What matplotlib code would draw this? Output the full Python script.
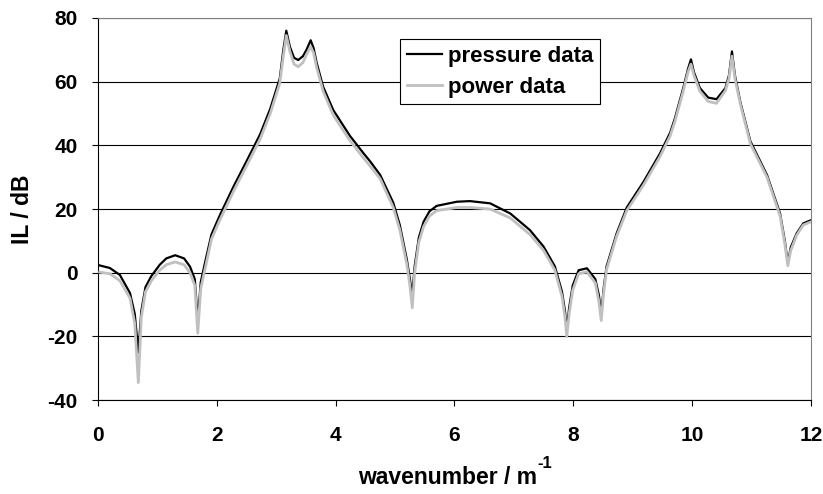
import numpy as np
import matplotlib.pyplot as plt

plt.rcParams['font.family'] = ['Liberation Sans', 'DejaVu Sans']
plt.rcParams['font.weight'] = 'bold'
plt.rcParams['axes.unicode_minus'] = False

# wavenumber samples
wavenumber = [0.03, 0.2, 0.37, 0.54, 0.62, 0.68, 0.73, 0.80, 0.9, 1.04, 1.15, 1.30, 1.45, 1.55,
              1.63, 1.68, 1.73, 1.80, 1.91, 2.05, 2.28, 2.50, 2.73, 2.90, 3.06, 3.12, 3.17, 3.23,
              3.30, 3.37, 3.45, 3.51, 3.58, 3.63, 3.68, 3.79, 3.96, 4.24, 4.47, 4.58, 4.75, 4.97,
              5.08, 5.20, 5.25, 5.29, 5.33, 5.40, 5.48, 5.58, 5.70, 6.04, 6.26, 6.60, 6.94, 7.27,
              7.50, 7.69, 7.81, 7.86, 7.89, 7.93, 7.99, 8.09, 8.23, 8.37, 8.43, 8.47, 8.51, 8.56,
              8.73, 8.90, 9.18, 9.46, 9.63, 9.71, 9.85, 9.93, 9.98, 10.03, 10.13, 10.27, 10.41,
              10.56, 10.62, 10.67, 10.72, 10.81, 10.98, 11.26, 11.48, 11.56, 11.61, 11.66, 11.76,
              11.87, 12.0]

pressure_il = [2.3, 1.5, -0.7, -6.4, -13, -25, -12, -4.5, -1, 2.5, 4.5, 5.5, 4.5, 1.9,
               -2, -15, -3, 3, 12, 18, 27, 35, 43.5, 51.5, 61, 70, 76, 71,
               67.5, 66.8, 68, 70, 73, 70.5, 66, 58.4, 51.1, 43, 37.5, 35, 30.7, 22,
               15, 4, -2, -7, 2, 11, 16, 19.3, 21, 22.3, 22.5, 21.8, 18.6, 13.4,
               8.2, 2, -6, -12, -18, -11, -4, 0.8, 1.4, -2, -7, -13, -5, 2,
               12.4, 20.5, 28.5, 37.5, 44, 48.5, 58, 64, 67, 63, 58, 55, 54.5,
               58, 62, 69.5, 62, 53.7, 41.3, 30.7, 18.6, 10, 3, 8, 12.4,
               15.5, 16.5]

power_il = [0.2, -0.3, -2.5, -8, -16, -34.5, -14, -6, -2.5, 0.8, 2.5, 3.4, 2.5, 0,
            -4, -19, -5, 1, 10.5, 16.5, 25.5, 33.5, 42, 50, 59.5, 68, 74.5, 69.5,
            65.5, 64.7, 66, 68.5, 71, 69, 64.5, 57, 49.5, 41.5, 36, 33.5, 29.5, 20.5,
            13.5, 2.5, -4, -11, 0, 9.5, 14.5, 17.8, 19.5, 20.5, 20.5, 20, 17.2, 12,
            7, 0.8, -7.5, -14, -20, -13, -5.5, -0.3, 0.3, -3.2, -9, -15, -6.5, 1,
            11.5, 19.5, 27.5, 36.5, 43, 47.5, 57, 63, 65.5, 62, 57, 53.8, 53.2,
            57.2, 61, 68, 61, 53, 40.5, 30, 17.8, 9, 2.2, 7, 11.8,
            15, 16]

fig = plt.figure(figsize=(8.23, 4.94), dpi=100)
ax = fig.add_axes([0.119, 0.190, 0.8664, 0.7736])

ax.plot(wavenumber, pressure_il, color='black', lw=1.6, label='pressure data', zorder=3)
ax.plot(wavenumber, power_il, color='#c0c0c0', lw=2.0, label='power data', zorder=4)

ax.set_xlim(0, 12)
ax.set_ylim(-40, 80)
ax.set_xticks(np.arange(0, 13, 2))
ax.set_yticks(np.arange(-40, 81, 20))
ax.yaxis.grid(True, color='black', lw=0.8)
ax.set_axisbelow(True)

ax.tick_params(axis='both', direction='out', length=4.5, width=0.8, labelsize=15)
ax.tick_params(axis='x', pad=14)
ax.tick_params(axis='y', pad=10)
for s in ['top', 'right']:
    ax.spines[s].set_color('#808080')
for s in ['left', 'bottom']:
    ax.spines[s].set_color('black')

ax.set_xlabel('wavenumber / m', fontsize=16.5, fontweight='bold')
ax.xaxis.set_label_coords(0.49, -0.172)
ax.set_ylabel('IL / dB', fontsize=16.5, fontweight='bold')
ax.yaxis.set_label_coords(-0.089, 0.5)

leg = ax.legend(loc='upper left', bbox_to_anchor=(0.424, 0.945), fontsize=16,
                frameon=True, fancybox=False, edgecolor='black', framealpha=1,
                handlelength=1.6, handletextpad=0.25, borderpad=0.3, labelspacing=0.45,
                borderaxespad=0)
leg.get_frame().set_linewidth(0.8)

# superscript "-1" with a plain hyphen, placed just after the x label
fig.canvas.draw()
bb = ax.xaxis.label.get_window_extent()
fig.text(bb.x1 + 1, bb.y1 + 10, '-1', fontsize=12, fontweight='bold', va='top', ha='left',
         transform=None)

fig.savefig('out.png', dpi=100)
